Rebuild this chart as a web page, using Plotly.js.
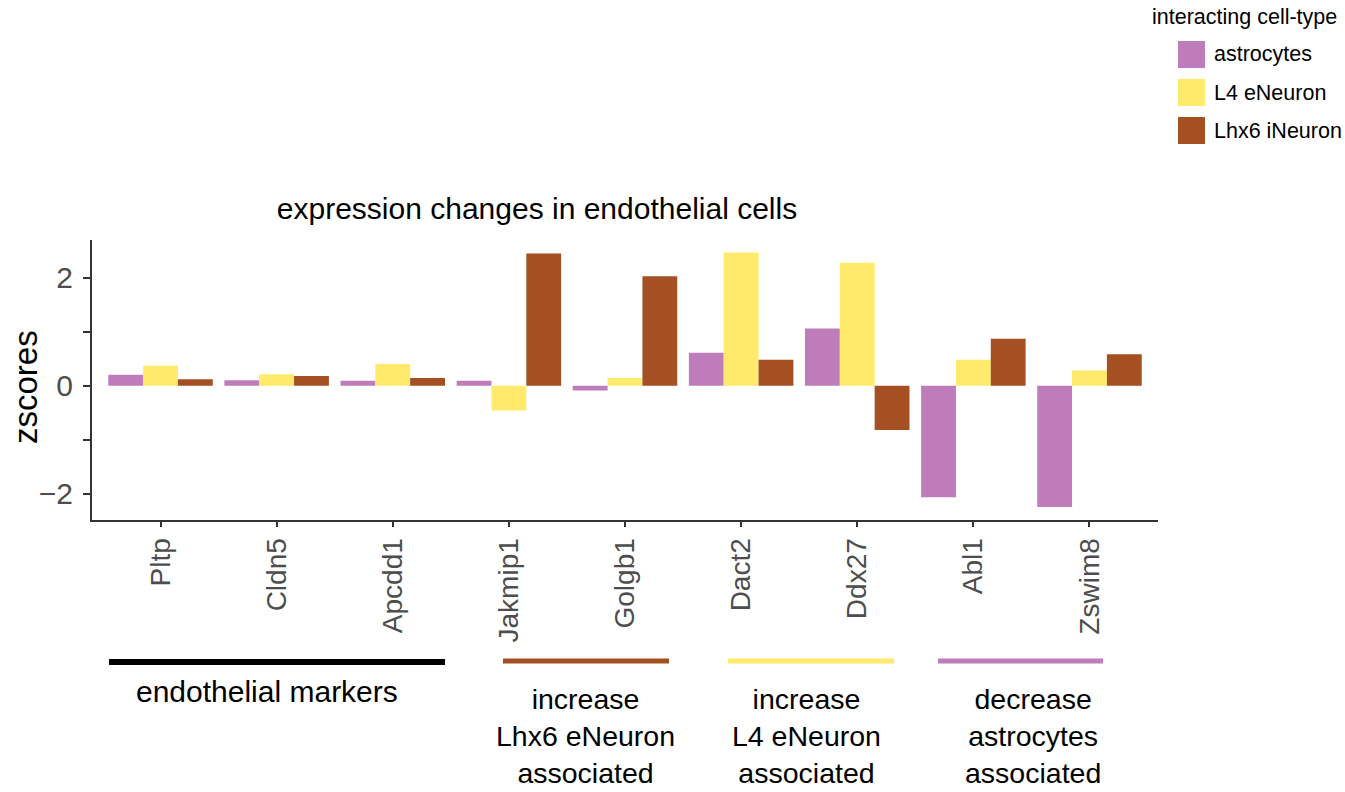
<!DOCTYPE html>
<html>
<head>
<meta charset="utf-8">
<script src="https://cdn.plot.ly/plotly-3.0.1.min.js"></script>
<style>html,body{margin:0;padding:0;background:#fff;}#chart{width:1345px;height:792px;}</style>
</head>
<body>
<div id="chart"></div>
<script>
// ---- data ----
var genes = ["Pltp", "Cldn5", "Apcdd1", "Jakmip1", "Golgb1", "Dact2", "Ddx27", "Abl1", "Zswim8"];
var seriesNames = ["astrocytes", "L4 eNeuron", "Lhx6 iNeuron"];
var astrocytes = [0.20, 0.10, 0.09, 0.09, -0.09, 0.61, 1.06, -2.07, -2.25];
var l4eNeuron  = [0.37, 0.21, 0.40, -0.46, 0.14, 2.47, 2.28, 0.48, 0.28];
var lhx6iNeuron = [0.12, 0.18, 0.14, 2.45, 2.03, 0.48, -0.82, 0.87, 0.58];
var yTickVals = [-2, -1, 0, 1, 2];
var yTickText = ["\u22122", "", "0", "", "2"];
var groupLabels = ["endothelial markers", "increase<br>Lhx6 eNeuron<br>associated", "increase<br>L4 eNeuron<br>associated", "decrease<br>astrocytes<br>associated"];
var legendTitle = "interacting cell-type";
var chartTitle = "expression changes in endothelial cells";
var yTitle = "zscores";

// ---- styling ----
var colors = ["#BE7CBB", "#FFEA6B", "#A45022"];
var groupColors = ["#000000", "#A45022", "#FFEA6B", "#BE7CBB"];

var W = 1345, H = 792;
var L = 92, R = 1158, T = 240, B = 520;
function px(x) { return (x - L) / (R - L); }
function py(y) { return (B - y) / (B - T); }

var values = [astrocytes, l4eNeuron, lhx6iNeuron];
var traces = values.map(function (v, i) {
  return {
    type: "bar",
    x: genes,
    y: v,
    name: seriesNames[i],
    marker: { color: colors[i], line: { width: 0 } },
    showlegend: false,
    hoverinfo: "x+y+name"
  };
});

var shapes = [];
var annotations = [];

// group underline bars (pixel positions)
var groupLines = [[109, 445, 662, 6], [503, 669, 661, 5], [728, 894, 661, 5], [938, 1103, 661, 5]];
groupLines.forEach(function (g, i) {
  shapes.push({ type: "line", xref: "paper", yref: "paper", x0: px(g[0]), x1: px(g[1]), y0: py(g[2]), y1: py(g[2]),
    line: { color: groupColors[i], width: g[3] } });
});
var groupTextPos = [[267, 691], [585, 736], [806, 736], [1033, 736]];
groupLabels.forEach(function (t, i) {
  annotations.push({ xref: "paper", yref: "paper", x: px(groupTextPos[i][0]), y: py(groupTextPos[i][1]),
    xanchor: "center", yanchor: "middle", showarrow: false, text: t, align: "center",
    font: { family: "Liberation Sans, Arial, sans-serif", size: i === 0 ? 30 : 28.5, color: "#000" } });
});

// y title
annotations.push({ xref: "paper", yref: "paper", x: px(25), y: py(387), xanchor: "center", yanchor: "middle",
  showarrow: false, text: yTitle, textangle: -90,
  font: { family: "Liberation Sans, Arial, sans-serif", size: 33, color: "#000" } });

// manual legend
annotations.push({ xref: "paper", yref: "paper", x: px(1150), y: py(17), xanchor: "left", yanchor: "middle",
  showarrow: false, text: legendTitle, font: { family: "Liberation Sans, Arial, sans-serif", size: 21.5, color: "#000" } });
seriesNames.forEach(function (n, i) {
  var yc = 54.5 + 38 * i;
  shapes.push({ type: "rect", xref: "paper", yref: "paper", x0: px(1178), x1: px(1205), y0: py(yc - 13.5), y1: py(yc + 13.5),
    fillcolor: colors[i], line: { width: 0 } });
  annotations.push({ xref: "paper", yref: "paper", x: px(1212), y: py(yc), xanchor: "left", yanchor: "middle",
    showarrow: false, text: n, font: { family: "Liberation Sans, Arial, sans-serif", size: 21.5, color: "#000" } });
});

var layout = {
  width: W, height: H,
  margin: { l: L, r: W - R, t: T, b: H - B, pad: 0 },
  paper_bgcolor: "#fff", plot_bgcolor: "#fff",
  barmode: "group", bargap: 0.1, bargroupgap: 0,
  showlegend: false,
  font: { family: "Liberation Sans, Arial, sans-serif", color: "#000" },
  title: { text: chartTitle, xref: "container", yref: "container", x: 537 / W, y: 1 - 208 / H,
    xanchor: "center", yanchor: "middle", font: { size: 30, color: "#000" } },
  xaxis: {
    type: "category", range: [-0.59, 8.59], showline: true, linecolor: "#333", linewidth: 2,
    ticks: "outside", ticklen: 5, tickwidth: 2, tickcolor: "#333", tickangle: -90,
    tickfont: { size: 28, color: "#4d4d4d" }, showgrid: false, zeroline: false, automargin: false
  },
  yaxis: {
    range: [-2.49, 2.70], showline: true, linecolor: "#333", linewidth: 2,
    ticks: "outside", ticklen: 7, tickwidth: 2, tickcolor: "#333",
    tickmode: "array", tickvals: yTickVals, ticktext: yTickText, ticklabelstandoff: 4,
    tickfont: { size: 30, color: "#4d4d4d" }, showgrid: false, zeroline: false, automargin: false
  },
  shapes: shapes,
  annotations: annotations
};

Plotly.newPlot("chart", traces, layout, { displayModeBar: false, staticPlot: true });
</script>
</body>
</html>
